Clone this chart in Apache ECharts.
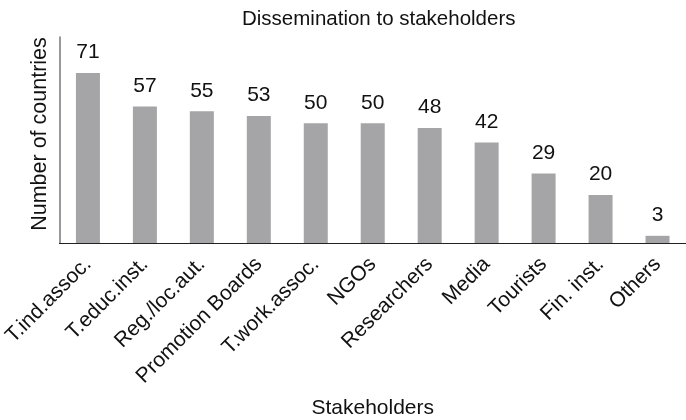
<!DOCTYPE html>
<html>
<head>
<meta charset="utf-8">
<script src="https://cdn.jsdelivr.net/npm/echarts@6/dist/echarts.min.js"></script>
<style>html,body{margin:0;padding:0;background:#fff}#c{width:686px;height:420px}</style>
</head>
<body>
<div id="c"></div>
<script>
const categories = ['T.ind.assoc.', 'T.educ.inst.', 'Reg./loc.aut.', 'Promotion Boards', 'T.work.assoc.', 'NGOs', 'Researchers', 'Media', 'Tourists', 'Fin. inst.', 'Others'];
const values = [71, 57, 55, 53, 50, 50, 48, 42, 29, 20, 3];
const titleText = 'Dissemination to stakeholders';
const xName = 'Stakeholders';
const yName = 'Number of countries';

const font = 'Liberation Sans, Arial, Helvetica, sans-serif';
const chart = echarts.init(document.getElementById('c'), null, {renderer: 'canvas'});
chart.setOption({
  animation: false,
  title: {
    text: titleText, left: 237, top: 4,
    textStyle: {fontFamily: font, fontSize: 20.5, fontWeight: 'normal', color: '#111'}
  },
  grid: {left: 59, right: 0, top: 37, bottom: 177, containLabel: false},
  xAxis: {
    type: 'category', data: categories,
    name: xName, nameLocation: 'middle', nameGap: 155,
    nameTextStyle: {fontFamily: font, fontSize: 21, color: '#111'},
    axisLine: {lineStyle: {color: '#222', width: 1.2}},
    axisTick: {show: false},
    axisLabel: {rotate: 45, interval: 0, margin: 18, fontFamily: font, fontSize: 21, color: '#111'}
  },
  yAxis: {
    type: 'value', min: 0, max: 86,
    name: yName, nameLocation: 'middle', nameGap: 8, nameRotate: 90,
    nameTextStyle: {fontFamily: font, fontSize: 21.5, color: '#111', padding: [0, 0, 0, 12]},
    axisLine: {show: true, lineStyle: {color: '#777', width: 1.5}},
    axisTick: {show: false},
    axisLabel: {show: false},
    splitLine: {show: false}
  },
  series: [{
    type: 'bar', data: values, barWidth: 24,
    itemStyle: {color: '#a5a5a8'},
    label: {show: true, position: 'top', distance: 10, fontFamily: font, fontSize: 21, color: '#111'}
  }]
});
</script>
</body>
</html>
